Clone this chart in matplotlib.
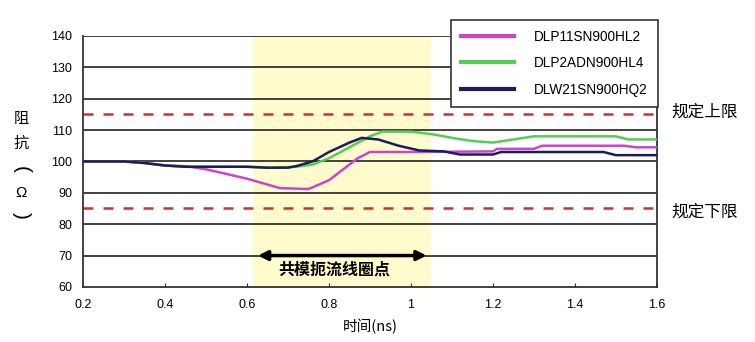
import matplotlib
matplotlib.use('Agg')
import matplotlib.pyplot as plt

plt.rcParams['font.family'] = ['Liberation Sans', 'Noto Sans CJK SC', 'DejaVu Sans']

# DLP11SN900HL2 (pink)
t_pink = [0.2, 0.3, 0.35, 0.4, 0.45, 0.5, 0.55, 0.6, 0.64, 0.68, 0.75, 0.8, 0.84, 0.87, 0.9,
          1.0, 1.2, 1.21, 1.3, 1.32, 1.52, 1.55, 1.6]
z_pink = [100, 100, 99.5, 98.7, 98.5, 97.5, 96, 94.5, 93, 91.5, 91.2, 94, 98, 101, 103,
          103, 103.2, 104, 104, 105, 105, 104.5, 104.5]

# DLP2ADN900HL4 (green)
t_green = [0.2, 0.3, 0.35, 0.4, 0.45, 0.6, 0.65, 0.72, 0.76, 0.8, 0.85, 0.9, 0.93, 1.0,
           1.06, 1.1, 1.15, 1.2, 1.25, 1.3, 1.5, 1.53, 1.6]
z_green = [100, 100, 99.5, 98.7, 98.3, 98.3, 98, 98.3, 99, 101, 104.5, 108, 109.5, 109.5,
           108.5, 107.5, 106.5, 106, 107, 108, 108, 107, 107]

# DLW21SN900HQ2 (navy)
t_navy = [0.2, 0.3, 0.35, 0.4, 0.45, 0.6, 0.65, 0.7, 0.72, 0.76, 0.8, 0.85, 0.88, 0.92,
          0.97, 1.02, 1.08, 1.12, 1.2, 1.22, 1.47, 1.5, 1.6]
z_navy = [100, 100, 99.5, 98.7, 98.3, 98.3, 98, 98, 98.5, 100, 103, 106, 107.5, 107,
          105, 103.5, 103.2, 102.2, 102.2, 103, 103, 102, 102]

labels = ['DLP11SN900HL2', 'DLP2ADN900HL4', 'DLW21SN900HQ2']
colors = ['#cc44cc', '#55cc55', '#1c1c5c']

upper_limit = 115
lower_limit = 85
zone = (0.615, 1.05)

fig = plt.figure(figsize=(7.55, 3.42), dpi=100)
ax = fig.add_axes([0.110, 0.161, 0.760, 0.734])

ax.axvspan(zone[0], zone[1], color='#fffbcc', zorder=0, lw=0)
for y in range(70, 141, 10):
    ax.axhline(y, color='#333333', lw=1.3, zorder=1)
ax.axhline(upper_limit, color='#cc3333', lw=1.8, ls=(0, (4, 4)), zorder=1)
ax.axhline(lower_limit, color='#cc3333', lw=1.8, ls=(0, (4, 4)), zorder=1)

lines = []
for t, z, c, lab in [(t_pink, z_pink, colors[0], labels[0]),
                     (t_green, z_green, colors[1], labels[1]),
                     (t_navy, z_navy, colors[2], labels[2])]:
    l, = ax.plot(t, z, color=c, lw=1.8, label=lab, zorder=3)
    lines.append(l)

ax.annotate('', xy=(zone[0] + 0.005, 70), xytext=(zone[1] - 0.005, 70),
            arrowprops=dict(arrowstyle='<|-|>', color='black', lw=2.5,
                            mutation_scale=14), zorder=4)
ax.text((zone[0] + zone[1]) / 2 - 0.02, 65.5, '共模扼流线圈点', ha='center', va='center',
        fontsize=11.5, fontweight='bold', family=['Noto Sans CJK SC'])

ax.set_xlim(0.2, 1.6)
ax.set_ylim(60, 140)
ax.set_xticks([0.2, 0.4, 0.6, 0.8, 1.0, 1.2, 1.4, 1.6])
ax.set_xticklabels(['0.2', '0.4', '0.6', '0.8', '1', '1.2', '1.4', '1.6'])
ax.set_yticks(range(60, 141, 10))
ax.tick_params(axis='x', direction='in', length=3, labelsize=9, pad=9, color='#333333')
ax.tick_params(axis='y', length=0, labelsize=9, pad=8)
for s in ['left', 'bottom', 'right']:
    ax.spines[s].set_color('#333333')
    ax.spines[s].set_linewidth(1.3)
ax.spines['top'].set_visible(False)

ax.set_xlabel('时间(ns)', fontsize=10.5, family=['Noto Sans CJK SC'], labelpad=5)

# stacked vertical y-axis label
ylab_x = 0.028
fig.text(ylab_x, 1 - 118 / 342, '阻', ha='center', va='center', fontsize=11,
         family=['Noto Sans CJK SC'])
fig.text(ylab_x, 1 - 143 / 342, '抗', ha='center', va='center', fontsize=11,
         family=['Noto Sans CJK SC'])
fig.text(ylab_x, 1 - 170 / 342, '(', ha='center', va='center', fontsize=15, rotation=-90)
fig.text(ylab_x, 1 - 193 / 342, 'Ω', ha='center', va='center', fontsize=11)
fig.text(ylab_x, 1 - 215 / 342, ')', ha='center', va='center', fontsize=15, rotation=-90)

fig.text(0.889, 1 - 112 / 342, '规定上限', ha='left', va='center', fontsize=12,
         family=['Noto Sans CJK SC'])
fig.text(0.889, 1 - 212 / 342, '规定下限', ha='left', va='center', fontsize=12,
         family=['Noto Sans CJK SC'])

leg = fig.legend(handles=lines, loc='upper right', bbox_to_anchor=(665 / 755, 1 - 13 / 342),
                 fontsize=9.8, handlelength=3.9, fancybox=False, framealpha=1,
                 edgecolor='#333333', borderpad=0.75, labelspacing=0.9, handletextpad=1.5)
leg.get_frame().set_linewidth(1.2)
for h in leg.legend_handles:
    h.set_linewidth(3)

fig.savefig('out.png', dpi=100)
